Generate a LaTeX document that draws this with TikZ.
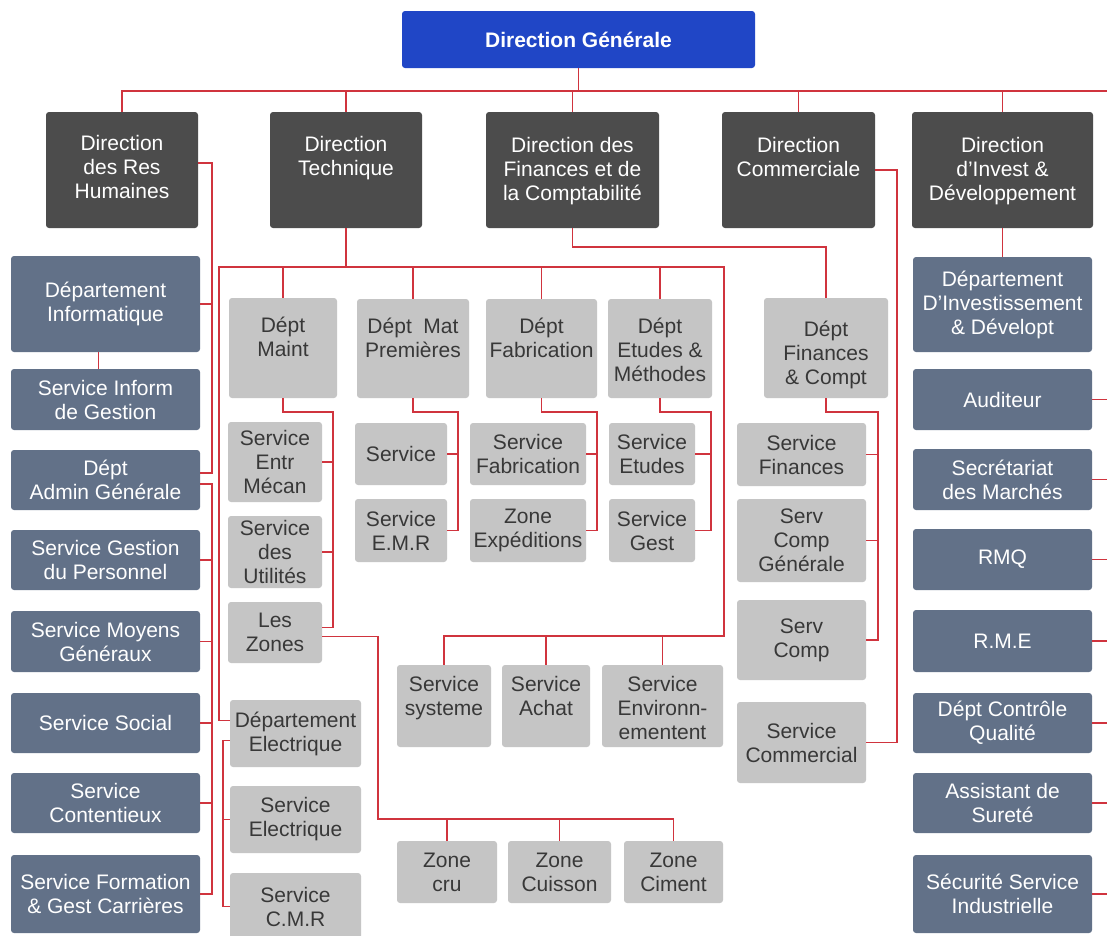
\documentclass[tikz,border=0pt]{standalone}
\usepackage{fontspec}
\setmainfont{Liberation Sans}

\definecolor{dgblue}{RGB}{32,70,198}
\definecolor{dirgrey}{RGB}{76,76,76}
\definecolor{slate}{RGB}{98,113,136}
\definecolor{lightbox}{RGB}{197,197,197}
\definecolor{linkred}{RGB}{208,52,62}

\tikzset{
  box/.style={rounded corners=3pt, inner sep=0pt, align=center, font=\fontsize{21}{24}\selectfont},
  dgbox/.style={box, fill=dgblue, text=white, font=\fontsize{21}{24}\selectfont\bfseries},
  dirbox/.style={box, fill=dirgrey, text=white},
  sidebox/.style={box, fill=slate, text=white},
  greybox/.style={box, fill=lightbox, text=black!78},
  wh/.style 2 args={minimum width=#1pt, minimum height=#2pt},
  dirtext/.style={anchor=north, inner sep=0pt, align=center, text=white, font=\fontsize{21}{24}\selectfont},
  greytext/.style={anchor=north, inner sep=0pt, align=center, text=black!78, font=\fontsize{21}{24}\selectfont},
  link/.style={draw=linkred, line width=1.8pt}
}

\begin{document}
\begin{tikzpicture}[x=1pt,y=-1pt]
\fill[white] (0,0) rectangle (1107,935);
\useasboundingbox (0,0) rectangle (1107,935);

% top level
\node[dgbox, wh={353}{57}] (dg) at (578.5,39.5) {Direction Générale};

\node[dirbox, wh={152}{116}, label={[dirtext,yshift=-23pt]north:Direction\\des Res\\Humaines}] (drh) at (122,170) {};
\node[dirbox, wh={152}{116}, label={[dirtext,yshift=-24pt]north:Direction\\Technique}] (dt) at (346,170) {};
\node[dirbox, wh={173}{116}, label={[dirtext,yshift=-25pt]north:Direction des\\Finances et de\\la Comptabilité}] (dfc) at (572.5,170) {};
\node[dirbox, wh={153}{116}, label={[dirtext,yshift=-25pt]north:Direction\\Commerciale}] (dcom) at (798.5,170) {};
\node[dirbox, wh={181}{116}, label={[dirtext,yshift=-25pt]north:Direction\\d'Invest \&\\Développement}] (dinv) at (1002.5,170) {};

% ressources humaines
\node[sidebox, wh={189}{96}] (dinfo) at (105.5,304) {Département\\Informatique};
\node[sidebox, wh={189}{61}] (sinfo) at (105.5,399.5) {Service Inform\\de Gestion};
\node[sidebox, wh={189}{60}] (dadmin) at (105.5,480) {Dépt\\Admin Générale};
\node[sidebox, wh={189}{60}] (sgp) at (105.5,560) {Service Gestion\\du Personnel};
\node[sidebox, wh={189}{61}] (smg) at (105.5,641.5) {Service Moyens\\Généraux};
\node[sidebox, wh={189}{60}] (ssoc) at (105.5,723) {Service Social};
\node[sidebox, wh={189}{60}] (scont) at (105.5,803) {Service\\Contentieux};
\node[sidebox, wh={189}{78}] (sform) at (105.5,894) {Service Formation\\\& Gest Carrières};

% technique
\node[greybox, wh={108}{100}, label={[greytext,yshift=-19pt]north:Dépt\\Maint}] (maint) at (283,348) {};
\node[greybox, wh={112}{99}, label={[greytext,yshift=-19pt]north:Dépt~~Mat\\Premières}] (mat) at (413,348.5) {};
\node[greybox, wh={111}{99}, label={[greytext,yshift=-19pt]north:Dépt\\Fabrication}] (fab) at (541.5,348.5) {};
\node[greybox, wh={104}{99}, label={[greytext,yshift=-19pt]north:Dépt\\Etudes \&\\Méthodes}] (etud) at (660,348.5) {};

\node[greybox, wh={94}{80}] (sentr) at (275,462) {Service\\Entr\\Mécan};
\node[greybox, wh={94}{72}] (sutil) at (275,552) {Service\\des\\Utilités};
\node[greybox, wh={94}{61}] (zones) at (275,632.5) {Les\\Zones};
\node[greybox, wh={131}{67}] (delec) at (295.5,733.5) {Département\\Electrique};
\node[greybox, wh={131}{67}] (selec) at (295.5,819.5) {Service\\Electrique};
\node[greybox, wh={131}{67}] (scmr) at (295.5,906.5) {Service\\C.M.R};

\node[greybox, wh={92}{62}] (serv) at (401,454) {Service};
\node[greybox, wh={92}{63}] (semr) at (401,530.5) {Service\\E.M.R};
\node[greybox, wh={116}{62}] (sfab) at (528,454) {Service\\Fabrication};
\node[greybox, wh={116}{63}] (zexp) at (528,530.5) {Zone\\Expéditions};
\node[greybox, wh={86}{62}] (setud) at (652,454) {Service\\Etudes};
\node[greybox, wh={86}{63}] (sgest) at (652,530.5) {Service\\Gest};

\node[greybox, wh={94}{82}, label={[greytext,yshift=-11pt]north:Service\\systeme}] (ssys) at (444,706) {};
\node[greybox, wh={88}{82}, label={[greytext,yshift=-11pt]north:Service\\Achat}] (sach) at (546,706) {};
\node[greybox, wh={121}{82}, label={[greytext,yshift=-11pt]north:Service\\Environn-\\ementent}] (senv) at (662.5,706) {};

\node[greybox, wh={100}{62}] (zcru) at (447,872) {Zone\\cru};
\node[greybox, wh={103}{62}] (zcuis) at (559.5,872) {Zone\\Cuisson};
\node[greybox, wh={99}{62}] (zcim) at (673.5,872) {Zone\\Ciment};

% finances et commerciale
\node[greybox, wh={124}{100}, label={[greytext,yshift=-23pt]north:Dépt\\Finances\\\& Compt}] (dfin) at (826,348) {};
\node[greybox, wh={129}{63}] (sfin) at (801.5,454.5) {Service\\Finances};
\node[greybox, wh={129}{83}] (scg) at (801.5,540.5) {Serv\\Comp\\Générale};
\node[greybox, wh={129}{80}] (scomp) at (801.5,640) {Serv\\Comp};
\node[greybox, wh={129}{81}] (scom) at (801.5,742.5) {Service\\Commercial};

% invest
\node[sidebox, wh={179}{95}] (ddev) at (1002.5,304.5) {Département\\D'Investissement\\\& Dévelopt};
\node[sidebox, wh={179}{61}] (aud) at (1002.5,399.5) {Auditeur};
\node[sidebox, wh={179}{61}] (secm) at (1002.5,479.5) {Secrétariat\\des Marchés};
\node[sidebox, wh={179}{61}] (rmq) at (1002.5,559.5) {RMQ};
\node[sidebox, wh={179}{62}] (rme) at (1002.5,641) {R.M.E};
\node[sidebox, wh={179}{60}] (dcq) at (1002.5,723) {Dépt Contrôle\\Qualité};
\node[sidebox, wh={179}{60}] (asur) at (1002.5,803) {Assistant de\\Sureté};
\node[sidebox, wh={179}{78}] (ssi) at (1002.5,894) {Sécurité Service\\Industrielle};

% links
\coordinate (topbus) at (1107,91);
\draw[link] (drh.north) |- (topbus);
\foreach \n in {dg.south,dt.north,dfc.north,dcom.north,dinv.north}
  \draw[link] (\n) -- (\n |- topbus);

\coordinate (rhbus) at (212,0);
\coordinate (rh-out) at ([yshift=7pt]drh.east);
\coordinate (adm-in) at ([yshift=7pt]dadmin.east);
\coordinate (adm-out) at ([yshift=-4pt]dadmin.east);
\draw[link] (rh-out) -| (rhbus |- adm-in) -- (adm-in);
\draw[link] (dinfo.east) -- (dinfo.east -| rhbus);
\draw[link] ([xshift=-7pt]dinfo.south) -- ([xshift=-7pt]sinfo.north);
\draw[link] (adm-out) -| (rhbus |- sform.east) -- (sform.east);
\foreach \n in {sgp,smg,ssoc,scont}
  \draw[link] (\n.east) -- (\n.east -| rhbus);

\coordinate (tl) at (219,267);
\coordinate (tr) at (724,267);
\coordinate (svbus) at (724,636);
\coordinate (el-in) at ([yshift=13pt]delec.west);
\coordinate (el-out) at ([yshift=-7pt]delec.west);
\draw[link] (dt.south) -- (dt.south |- tl);
\draw[link] (el-in) -| (tl) -- (tr) -- (svbus) -| (ssys.north);
\foreach \n in {maint,mat,fab,etud}
  \draw[link] (\n.north) -- (\n.north |- tl);
\foreach \n in {sach,senv}
  \draw[link] (\n.north) -- (\n.north |- svbus);

\coordinate (elbus) at (223,0);
\draw[link] (el-out) -| (elbus |- scmr.west) -- (scmr.west);
\draw[link] (selec.west) -- (selec.west -| elbus);

\coordinate (mtbus) at (333,412);
\coordinate (zn-in) at ([yshift=5pt]zones.east);
\coordinate (zn-out) at ([yshift=-4pt]zones.east);
\draw[link] (maint.south) |- (mtbus) |- (zn-in);
\foreach \n in {sentr,sutil}
  \draw[link] (\n.east) -- (\n.east -| mtbus);
\coordinate (znbus) at (378,819);
\draw[link] (zn-out) -| (znbus) -| (zcim.north);
\foreach \n in {zcru,zcuis}
  \draw[link] (\n.north) -- (\n.north |- znbus);

\coordinate (matbus) at (458,412);
\coordinate (fabbus) at (597,412);
\coordinate (etbus) at (711,412);
\foreach \d/\b/\a/\c in {mat/matbus/serv/semr,fab/fabbus/sfab/zexp,etud/etbus/setud/sgest}{
  \draw[link] (\d.south) |- (\b) |- (\c.east);
  \draw[link] (\a.east) -- (\a.east -| \b);
}

\coordinate (fcbus) at (0,247);
\draw[link] (dfc.south) |- (dfin.north |- fcbus) -- (dfin.north);
\coordinate (fibus) at (878,412);
\draw[link] (dfin.south) |- (fibus) |- (scomp.east);
\foreach \n in {sfin,scg}
  \draw[link] (\n.east) -- (\n.east -| fibus);

\coordinate (cmbus) at (897,0);
\draw[link] (dcom.east) -| (cmbus |- scom.east) -- (scom.east);

\draw[link] (dinv.south) -- (ddev.north);
\coordinate (rtbus) at (1107,0);
\foreach \n in {aud,secm,rmq,rme,dcq,asur,ssi}
  \draw[link] (\n.east) -- (\n.east -| rtbus);
\end{tikzpicture}
\end{document}
